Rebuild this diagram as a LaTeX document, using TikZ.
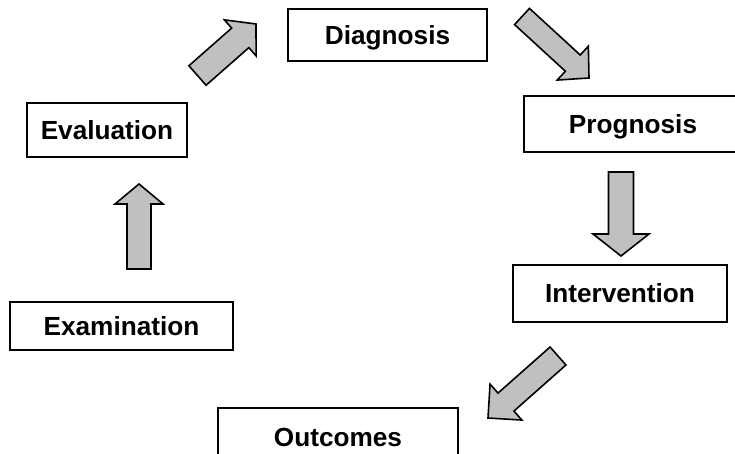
\documentclass[tikz,border=0pt]{standalone}
\usepackage{fontspec}
\setmainfont{Liberation Sans}
\usepackage{tikz}
\usetikzlibrary{calc, positioning}
\definecolor{gris}{RGB}{192,192,192}
\tikzset{
	x=1pt, y=-1pt, % Un pixel de la imagen es un punto
	caja/.style={draw, line width=1.6pt, text height=18.8pt, text depth=0pt,
		font=\bfseries\fontsize{26.2}{30}\selectfont}, % Cajas de cada etapa
	bloque/.style={draw, fill=gris, line width=1.6pt} % Flechas gruesas
}
% flecha gruesa: cola, punta, medio ancho del cuerpo, medio ancho de la punta, largo de la punta
\newcommand{\flecha}[5]{%
	\coordinate (#1b) at ($(#2)!#5!(#1)$);
	\draw[bloque] ($(#1)!#3!90:(#2)$) -- ($(#1b)!#3!90:(#2)$) -- ($(#1b)!#4!90:(#2)$) -- (#2)
		-- ($(#1b)!#4!-90:(#2)$) -- ($(#1b)!#3!-90:(#2)$) -- ($(#1)!#3!-90:(#2)$) -- cycle;
}

\begin{document}
\begin{tikzpicture}
				\useasboundingbox (0,0) rectangle (735,454);
				\node[caja, minimum width=199pt, minimum height=52pt] (diag) at (387.5,35) {Diagnosis};
				\node[caja, minimum width=218pt, minimum height=56pt] (prog) at (633,124) {Prognosis};
				\node[caja, minimum width=160pt, minimum height=54pt] (eval) at (107,130) {Evaluation};
				\node[caja, minimum width=214pt, minimum height=57pt] (interv) at (620,293.5) {Intervention};
				\node[caja, minimum width=223pt, minimum height=48pt] (exam) at (121.5,326) {Examination};
				\node[caja, minimum width=240pt, minimum height=58pt] (outc) at (338,437) {Outcomes};
				\coordinate (e1) at (139,269);   \coordinate (e2) at (139,184);
				\coordinate (a1) at (197.5,75.5); \coordinate (a2) at (256,24);
				\coordinate (b1) at (522,16.5);  \coordinate (b2) at (589,78);
				\coordinate (c1) at (621,172);   \coordinate (c2) at (621,256);
				\coordinate (d1) at (558,356);   \coordinate (d2) at (488,418);
				\flecha{e1}{e2}{12pt}{24pt}{20pt}
				\flecha{a1}{a2}{13pt}{24pt}{21pt}
				\flecha{b1}{b2}{11pt}{23pt}{22pt}
				\flecha{c1}{c2}{12.5pt}{28pt}{22pt}
				\flecha{d1}{d2}{12pt}{24pt}{24pt}
			\end{tikzpicture}
\end{document}
